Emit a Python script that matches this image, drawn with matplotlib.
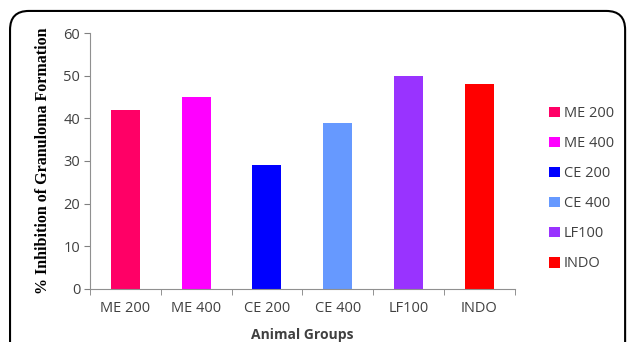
import matplotlib.pyplot as plt
from matplotlib.patches import FancyBboxPatch, Patch
import numpy as np

groups = ['ME 200', 'ME 400', 'CE 200', 'CE 400', 'LF100', 'INDO']
inhibition = [42, 45, 29, 39, 50, 48]
bar_colors = ['#ff0066', '#ff00ff', '#0000ff', '#6699ff', '#9933ff', '#ff0000']

plt.rcParams['font.family'] = ['Open Sans', 'DejaVu Sans']
text_color = '#404040'

fig = plt.figure(figsize=(6.27, 3.42), dpi=100)
ax = fig.add_axes([0.1435, 0.155, 0.6775, 0.7485])

x = np.arange(len(groups))
ax.bar(x, inhibition, width=0.41, color=bar_colors)

ax.set_xlim(-0.5, len(groups) - 0.5)
ax.set_ylim(0, 60)
ax.set_yticks(range(0, 61, 10))
ax.set_xticks(x)
ax.set_xticklabels(groups)
ax.tick_params(axis='both', colors='#808080', labelcolor=text_color, labelsize=10.5)
ax.tick_params(axis='x', length=0, pad=9)
ax.tick_params(axis='y', length=4, direction='out', pad=3)
# category boundary ticks on x axis
ax.set_xticks(np.arange(-0.5, len(groups)), minor=True)
ax.tick_params(axis='x', which='minor', length=4, color='#808080')

for side in ['top', 'right']:
    ax.spines[side].set_visible(False)
for side in ['left', 'bottom']:
    ax.spines[side].set_color('#909090')

ax.set_ylabel('% Inhibition of Granuloma Formation', family=['Liberation Serif'],
              fontweight='bold', fontsize=11.5, color='black', labelpad=9)
ax.set_xlabel('Animal Groups', fontweight='bold', fontsize=10, color=text_color, labelpad=8)

handles = [Patch(facecolor=c, edgecolor='none') for c in bar_colors]
leg = fig.legend(handles, groups, loc='upper left', bbox_to_anchor=(0.855, 0.728),
                 frameon=False, handlelength=0.75, handleheight=0.75, handletextpad=0.25,
                 labelspacing=1.03, fontsize=10.5, labelcolor=text_color)

# rounded frame around the figure
frame = FancyBboxPatch((0.016, -0.2), 0.981, 1.168, boxstyle='round,pad=0,rounding_size=0.03',
                       transform=fig.transFigure, fill=False, edgecolor='black', linewidth=1.5,
                       mutation_aspect=627 / 342)
fig.patches.append(frame)

plt.savefig('out.png', dpi=100)
